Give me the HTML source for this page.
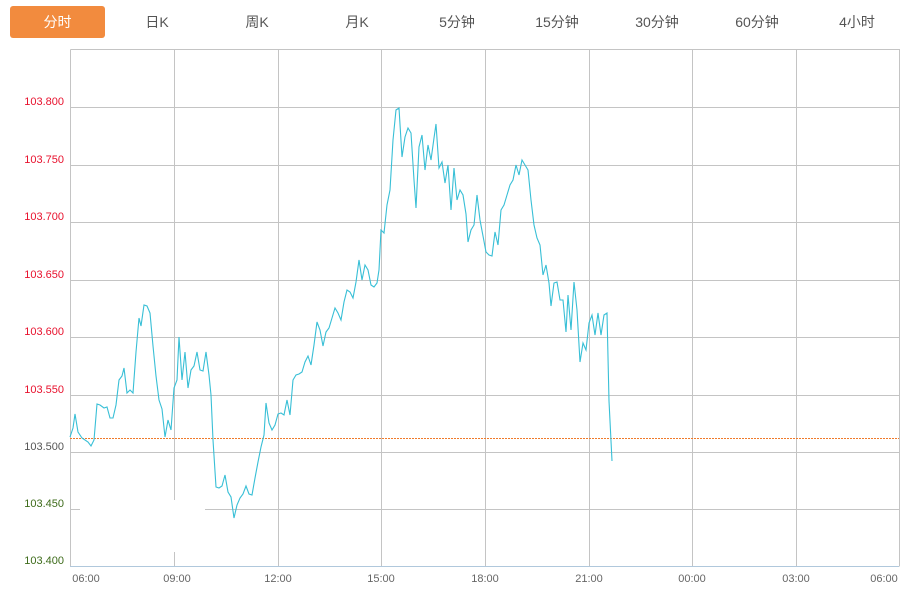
<!DOCTYPE html>
<html><head><meta charset="utf-8"><style>
body{margin:0;background:#fff;width:921px;height:593px;overflow:hidden;font-family:"Liberation Sans","Noto Sans CJK SC",sans-serif}
.tab{position:absolute;top:6px;height:32px;line-height:32px;width:96px;text-align:center;font-size:14px;color:#555}
.on{left:10px;background:#f28b3e;color:#fff;border-radius:3px;width:95px}
</style></head><body>
<div class="tab on">分时</div>
<div class="tab" style="left:109px">日K</div>
<div class="tab" style="left:209px">周K</div>
<div class="tab" style="left:309px">月K</div>
<div class="tab" style="left:409px">5分钟</div>
<div class="tab" style="left:509px">15分钟</div>
<div class="tab" style="left:609px">30分钟</div>
<div class="tab" style="left:709px">60分钟</div>
<div class="tab" style="left:809px">4小时</div>
<svg width="921" height="593" style="position:absolute;left:0;top:0" font-family="Liberation Sans, sans-serif" font-size="11">
<g stroke="#c4c4c4" stroke-width="1" fill="none">
<path d="M70.5 49.5H899.5V566.5M70.5 49.5V566.5"/>
<path d="M174.5 49V567M278.5 49V567M381.5 49V567M485.5 49V567M589.5 49V567M692.5 49V567M796.5 49V567"/>
<path d="M70 107.5H899M70 165.5H899M70 222.5H899M70 280.5H899M70 337.5H899M70 395.5H899M70 452.5H899M70 509.5H899"/>
</g>
<path d="M70 566.5H899" stroke="#b0c8dc"/>
<rect x="80" y="500" width="125" height="52" fill="#fff"/>
<g text-anchor="end">
<text x="64" y="105" fill="#e8112d">103.800</text>
<text x="64" y="163" fill="#e8112d">103.750</text>
<text x="64" y="220" fill="#e8112d">103.700</text>
<text x="64" y="278" fill="#e8112d">103.650</text>
<text x="64" y="335" fill="#e8112d">103.600</text>
<text x="64" y="393" fill="#e8112d">103.550</text>
<text x="64" y="450" fill="#555">103.500</text>
<text x="64" y="507" fill="#3d6b1a">103.450</text>
<text x="64" y="564" fill="#3d6b1a">103.400</text>
</g>
<g fill="#666" text-anchor="middle">
<text x="86" y="582">06:00</text><text x="177" y="582">09:00</text><text x="278" y="582">12:00</text>
<text x="381" y="582">15:00</text><text x="485" y="582">18:00</text><text x="589" y="582">21:00</text>
<text x="692" y="582">00:00</text><text x="796" y="582">03:00</text><text x="884" y="582">06:00</text>
</g>
<path d="M70 438.5H899" stroke="#f07a2a" stroke-dasharray="2,1" stroke-width="1"/>
<polyline fill="none" stroke="#38bfd6" stroke-width="1.1" points="70,437 73,428 75,414 78,432 82,438 88,442 91,446 94,440 97,404 100,405 104,408 107,407 110,418 113,418 116,405 119,380 122,376 124,368 127,393 130,390 133,393 136,352 139,318 141,326 144,305 147,306 150,313 153,346 156,376 159,400 162,409 165,437 168,420 171,430 174,388 177,380 179,337 182,380 185,352 188,388 191,370 194,366 197,352 200,370 203,371 206,352 209,375 211,395 213,440 216,487 219,488 222,486 225,475 228,492 231,497 234,518 237,505 240,498 243,494 246,486 249,494 252,495 255,478 258,462 261,447 264,435 266,403 269,423 272,430 275,425 278,414 281,413 284,415 287,400 290,415 293,380 296,375 299,374 302,372 305,362 308,356 311,365 314,345 317,322 320,330 323,346 326,332 329,328 332,318 335,308 338,313 341,320 344,302 347,290 350,292 353,298 356,282 359,260 362,280 365,265 368,270 371,285 374,287 377,283 379,270 381,230 384,233 387,205 390,190 393,140 396,110 399,108 402,157 405,137 408,128 411,133 414,180 416,208 419,147 422,135 425,170 428,145 431,160 434,138 436,124 439,168 442,162 445,183 448,165 451,210 454,168 457,200 460,190 463,195 466,214 468,242 471,230 474,225 477,195 480,220 483,236 486,252 489,255 492,256 495,232 498,245 501,210 504,205 507,195 510,185 513,180 516,165 519,175 522,160 525,165 528,170 531,200 534,225 537,238 540,245 543,275 546,265 549,283 551,306 554,283 557,282 560,300 563,300 566,332 568,295 571,330 574,282 577,310 580,362 583,343 586,350 589,323 592,315 595,335 598,313 601,335 604,315 607,313 609,401 612,461"/>
</svg>
</body></html>
